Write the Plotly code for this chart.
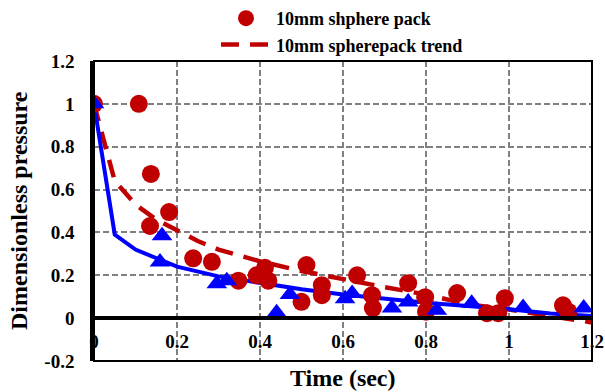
import plotly.graph_objects as go

# ---------------- data ----------------
pack_x = [0.0, 0.108, 0.137, 0.181, 0.135, 0.239, 0.284, 0.348, 0.392, 0.412, 0.42,
          0.50, 0.512, 0.549, 0.549, 0.634, 0.67, 0.672, 0.757, 0.798, 0.80, 0.875,
          0.947, 0.974, 0.99, 1.13, 1.143]
pack_y = [1.0, 1.0, 0.673, 0.495, 0.43, 0.279, 0.263, 0.175, 0.20, 0.235, 0.175,
          0.076, 0.248, 0.154, 0.107, 0.20, 0.107, 0.047, 0.163, 0.098, 0.03, 0.117,
          0.023, 0.023, 0.093, 0.06, 0.03]

trend_x = [0.0, 0.05, 0.1, 0.15, 0.2, 0.25, 0.3, 0.4, 0.5, 0.6, 0.7, 0.8, 0.9, 1.0, 1.1, 1.2]
trend_y = [1.0, 0.64, 0.53, 0.46, 0.41, 0.36, 0.32, 0.265, 0.22, 0.18, 0.145, 0.11, 0.065, 0.04, 0.012, -0.02]

tri_x = [0.0, 0.164, 0.159, 0.296, 0.32, 0.44, 0.472, 0.605, 0.622, 0.718, 0.757,
         0.826, 0.91, 1.034, 1.18]
tri_y = [1.0, 0.385, 0.262, 0.16, 0.175, 0.025, 0.11, 0.09, 0.115, 0.047, 0.075,
         0.037, 0.07, 0.05, 0.047]

fit_x = [0.0, 0.05, 0.1, 0.16, 0.2, 0.3, 0.4, 0.5, 0.6, 0.7, 0.8, 0.9, 1.0, 1.1, 1.2]
fit_y = [1.0, 0.39, 0.32, 0.27, 0.24, 0.195, 0.165, 0.135, 0.11, 0.09, 0.072, 0.057, 0.042, 0.022, 0.01]

x_ticks = [0, 0.2, 0.4, 0.6, 0.8, 1.0, 1.2]
x_ticklabels = ["0", "0.2", "0.4", "0.6", "0.8", "1", "1.2"]
y_ticks = [-0.2, 0, 0.2, 0.4, 0.6, 0.8, 1.0, 1.2]
y_ticklabels = ["-0.2", "0", "0.2", "0.4", "0.6", "0.8", "1", "1.2"]

RED = "#C00000"
BLUE = "#0000FF"
FONT = "Liberation Serif"

fig = go.Figure()
fig.add_trace(go.Scatter(x=trend_x, y=trend_y, mode="lines", name="10mm spherepack trend",
                         legendrank=2,
                         line=dict(color=RED, width=4.5, dash="18px,11px")))
fig.add_trace(go.Scatter(x=fit_x, y=fit_y, mode="lines", showlegend=False,
                         line=dict(color=BLUE, width=4)))
fig.add_trace(go.Scatter(x=pack_x, y=pack_y, mode="markers", name="10mm shphere pack",
                         legendrank=1,
                         marker=dict(symbol="circle", size=18, color=RED)))
fig.add_trace(go.Scatter(x=tri_x, y=tri_y, mode="markers", showlegend=False,
                         marker=dict(symbol="triangle-up", size=18, color=BLUE)))

fig.update_layout(
    width=605, height=392,
    margin=dict(l=94, r=13, t=61, b=31, autoexpand=False),
    paper_bgcolor="white", plot_bgcolor="white",
    font=dict(family=FONT, size=19, color="black", weight="bold"),
    legend=dict(xref="container", yref="container", x=216 / 605, y=1.005,
                xanchor="left", yanchor="top", bgcolor="rgba(0,0,0,0)",
                font=dict(family=FONT, size=18, weight="bold"),
                traceorder="normal", itemwidth=50, tracegroupgap=0),
    xaxis=dict(range=[0, 1.2], tickvals=x_ticks, ticktext=x_ticklabels,
               anchor="free", position=0.2 / 1.4, automargin=False,
               showline=True, linecolor="black", linewidth=4,
               showgrid=True, gridcolor="#808080", gridwidth=1.5, griddash="6px,3px",
               zeroline=False, ticks="", ticklabelstandoff=5,
               tickfont=dict(family=FONT, size=19, weight="bold")),
    yaxis=dict(range=[-0.2, 1.2], tickvals=y_ticks, ticktext=y_ticklabels,
               automargin=False,
               showline=True, linecolor="black", linewidth=3.5,
               showgrid=True, gridcolor="#808080", gridwidth=1.5, griddash="6px,3px",
               zeroline=False, ticks="", ticklabelstandoff=12,
               tickfont=dict(family=FONT, size=19, weight="bold")),
    shapes=[dict(type="rect", xref="paper", yref="paper", x0=0, x1=1, y0=0, y1=1,
                 line=dict(color="black", width=2), layer="above")],
    annotations=[
        dict(text="Time (sec)", xref="paper", yref="paper", x=0.5, y=-0.057,
             xanchor="center", yanchor="middle", showarrow=False,
             font=dict(family=FONT, size=24, weight="bold")),
        dict(text="Dimensionless pressure", xref="paper", yref="paper",
             x=(19 - 94) / 498, y=0.5, textangle=-90,
             xanchor="center", yanchor="middle", showarrow=False,
             font=dict(family=FONT, size=24, weight="bold")),
    ],
)

fig.write_html("out.html")
